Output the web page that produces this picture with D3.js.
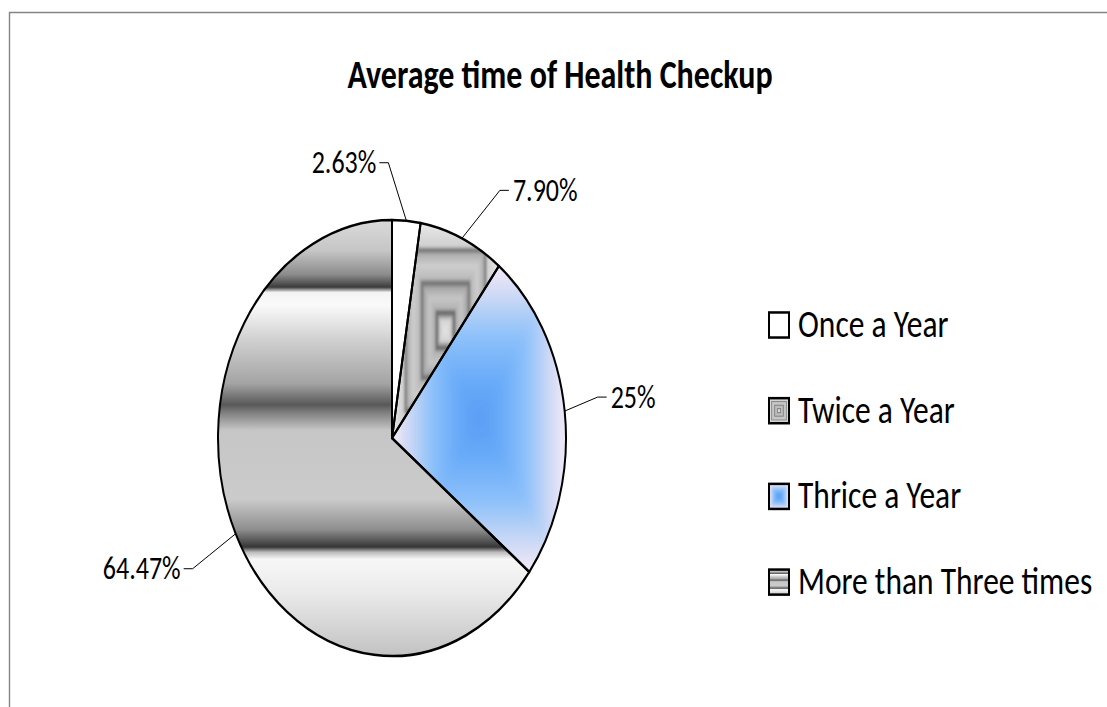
<!DOCTYPE html>
<html>
<head>
<meta charset="utf-8">
<script src="https://cdn.jsdelivr.net/npm/d3@7"></script>
<style>
  body { margin: 0; background: #fff; }
  svg { display: block; }
</style>
</head>
<body>
<svg id="chart" width="1107" height="707"></svg>
<script>
// ---- data ----
const categories = ["Once a Year", "Twice a Year", "Thrice a Year", "More than Three times"];
const values = [2.63, 7.90, 25, 64.47];
const valueLabels = ["2.63%", "7.90%", "25%", "64.47%"];
const chartTitle = "Average time of Health Checkup";

// ---- layout ----
const W = 1107, H = 707;
const SY = 1.253;            // the chart area is drawn stretched vertically
const SX = 1.0;
const cx = 392, cy = 438, R = 174;
const FONT = "Carlito, Calibri, Lato, sans-serif";
// offsets from the rim point of each slice to the elbow of its leader line
const labelOffsets = [[-18, -58], [38, -48], [33, -14], [-43, 35]];
const legendX = 769, legendY0 = 325, legendStep = 85.7;

const svg = d3.select("#chart");
const defs = svg.append("defs");

// soft-focus filters for the gradient fills
[["soft1", 1.1], ["soft5", 5]].forEach(([id, s]) => {
  defs.append("filter").attr("id", id)
    .attr("x", "-20%").attr("y", "-20%").attr("width", "140%").attr("height", "140%")
    .append("feGaussianBlur").attr("stdDeviation", s);
});

// chart frame
svg.append("path")
  .attr("d", `M9.5,${H} V12.5 H${W}`)
  .attr("fill", "none").attr("stroke", "#858585").attr("stroke-width", 1.4);

// ---- fills ----
// horizontal banding used for the largest slice
const bandStops = [
  [0.000, "#dadada"], [0.070, "#c6c6c6"], [0.125, "#8c8c8c"], [0.154, "#3c3c3c"],
  [0.166, "#f3f3f3"], [0.195, "#fafafa"], [0.275, "#d0d0d0"], [0.375, "#a4a4a4"],
  [0.424, "#585858"], [0.440, "#7c7c7c"], [0.482, "#c6c6c6"], [0.640, "#cbcbcb"],
  [0.710, "#8e8e8e"], [0.750, "#363636"], [0.762, "#bcbcbc"], [0.778, "#f7f7f7"],
  [0.850, "#ebebeb"], [1.000, "#c2c2c2"]
];
const bandGrad = defs.append("linearGradient").attr("id", "bandGrad")
  .attr("x1", 0).attr("y1", 0).attr("x2", 0).attr("y2", 1);
bandStops.forEach(([o, c]) => bandGrad.append("stop").attr("offset", o).attr("stop-color", c));

// rectangular "from centre" profiles (t = 0 at centre, 1 at box edge)
const squaresProfile = [
  [0, "#e4e4e4"], [0.10, "#d2d2d2"], [0.14, "#8a8a8a"], [0.165, "#5a5a5a"], [0.20, "#b2b2b2"],
  [0.30, "#c6c6c6"], [0.40, "#a6a6a6"], [0.44, "#686868"], [0.48, "#bababa"],
  [0.60, "#cecece"], [0.71, "#aeaeae"], [0.75, "#6a6a6a"], [0.78, "#d0d0d0"],
  [0.90, "#dedede"], [1, "#ebebeb"]
];
const blueProfile = [
  [0, "#5a9df4"], [0.25, "#69abf9"], [0.55, "#8fc2fa"], [0.80, "#cbd9f5"], [1, "#f4eaf6"]
];

function rectGradient(g, box, profile, n) {
  const color = d3.scaleLinear()
    .domain(profile.map(d => d[0]))
    .range(profile.map(d => d[1]))
    .interpolate(d3.interpolateRgb).clamp(true);
  const mx = box.x + box.width / 2, my = box.y + box.height / 2;
  // margin beyond the box so blurred edges keep the edge colour
  g.append("rect")
    .attr("x", mx - 0.65 * box.width).attr("y", my - 0.65 * box.height)
    .attr("width", 1.3 * box.width).attr("height", 1.3 * box.height)
    .attr("fill", color(1));
  for (let i = n; i >= 1; i--) {
    const t = i / n;
    g.append("rect")
      .attr("x", mx - t * box.width / 2).attr("y", my - t * box.height / 2)
      .attr("width", t * box.width).attr("height", t * box.height)
      .attr("fill", color(t - 0.5 / n));
  }
}

// ---- pie ----
const pie = d3.pie().sort(null).value(d => d);
const arcs = pie(values);
const arc = d3.arc().innerRadius(0).outerRadius(R);

const pieG = svg.append("g").attr("transform", `translate(${cx},${cy}) scale(1,${SY})`);

arcs.forEach((a, i) => {
  defs.append("clipPath").attr("id", "slice" + i)
    .append("path").attr("d", arc(a));
  const sliceG = pieG.append("g").attr("clip-path", `url(#slice${i})`);
  if (i === 0) {
    sliceG.append("path").attr("d", arc(a)).attr("fill", "#ffffff");
  } else if (i === 3) {
    sliceG.append("path").attr("d", arc(a)).attr("fill", "url(#bandGrad)");
  } else {
    const tmp = pieG.append("path").attr("d", arc(a)).attr("fill", "none");
    const box = tmp.node().getBBox();
    tmp.remove();
    const inner = sliceG.append("g").attr("filter", i === 1 ? "url(#soft1)" : "url(#soft5)");
    rectGradient(inner, box, i === 1 ? squaresProfile : blueProfile, 90);
  }
});

pieG.selectAll("path.outline")
  .data(arcs).join("path")
  .attr("class", "outline")
  .attr("d", arc)
  .attr("fill", "none")
  .attr("stroke", "#000")
  .attr("stroke-width", 2)
  .attr("stroke-linejoin", "round");

// ---- text helper ----
function addText(x, y, str, size, weight, anchor) {
  const g = svg.append("g").attr("transform", `translate(${x},${y}) scale(${SX},${SY})`);
  g.append("text")
    .attr("x", 0).attr("y", 0)
    .attr("text-anchor", anchor)
    .attr("font-family", FONT)
    .attr("font-size", size)
    .attr("font-weight", weight)
    .attr("fill", "#000")
    .text(str);
  return g;
}

// ---- data labels with leader lines ----
arcs.forEach((a, i) => {
  const mid = (a.startAngle + a.endAngle) / 2;
  const px = cx + R * Math.sin(mid);
  const py = cy - R * Math.cos(mid) * SY;
  const ex = px + labelOffsets[i][0];
  const ey = py + labelOffsets[i][1];
  const right = labelOffsets[i][0] > 0;
  const hx = right ? ex + 9 : ex - 9;
  svg.append("path")
    .attr("d", `M${px},${py} L${ex},${ey} L${hx},${ey}`)
    .attr("fill", "none").attr("stroke", "#000").attr("stroke-width", 1);
  addText(right ? hx + 4 : hx - 3, ey + 10.5, valueLabels[i], 26, "normal", right ? "start" : "end");
});

// ---- title ----
addText(560, 88, chartTitle, 32, "bold", "middle");

// ---- legend ----
const sw = 20;
categories.forEach((c, i) => {
  const yc = legendY0 + i * legendStep;
  const g = svg.append("g").attr("transform", `translate(${legendX},${yc}) scale(1,${SY})`);
  const box = { x: 0, y: -sw / 2, width: sw, height: sw };
  if (i === 0) {
    g.append("rect").attr("x", box.x).attr("y", box.y).attr("width", sw).attr("height", sw).attr("fill", "#fff");
  } else if (i === 3) {
    g.append("rect").attr("x", box.x).attr("y", box.y).attr("width", sw).attr("height", sw).attr("fill", "url(#bandGrad)");
  } else {
    const clipId = "sw" + i;
    defs.append("clipPath").attr("id", clipId)
      .append("rect").attr("x", box.x).attr("y", box.y).attr("width", sw).attr("height", sw);
    const inner = g.append("g").attr("clip-path", `url(#${clipId})`)
      .append("g").attr("filter", i === 2 ? "url(#soft1)" : null);
    rectGradient(inner, box, i === 1 ? squaresProfile : blueProfile, 30);
  }
  g.append("rect").attr("x", box.x).attr("y", box.y).attr("width", sw).attr("height", sw)
    .attr("fill", "none").attr("stroke", "#000").attr("stroke-width", 2);
  addText(legendX + 29, yc + 12, c, 31.5, "normal", "start");
});
</script>
</body>
</html>
